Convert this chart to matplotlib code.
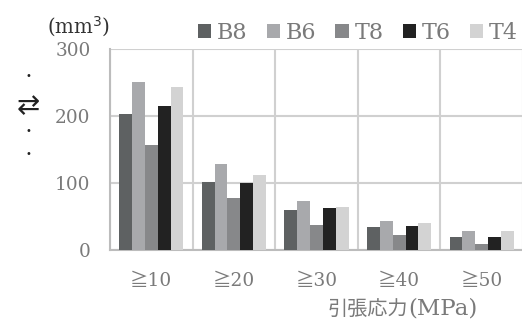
import matplotlib
matplotlib.use("Agg")
import matplotlib.pyplot as plt
import numpy as np

plt.rcParams['font.family'] = ['DejaVu Serif', 'Noto Sans CJK JP', 'DejaVu Sans']

categories = ['≧10', '≧20', '≧30', '≧40', '≧50']
series_names = ['B8', 'B6', 'T8', 'T6', 'T4']
B8 = [203, 101, 59, 35, 19]
B6 = [251, 129, 73, 44, 28]
T8 = [157, 77, 37, 22, 9]
T6 = [215, 100, 62, 36, 20]
T4 = [244, 112, 64, 41, 29]
series_values = [B8, B6, T8, T6, T4]
colors = ['#5e6162', '#a8a9ac', '#87888a', '#222222', '#d3d3d3']

y_ticks = [0, 100, 200, 300]
x_label_jp = '引張応力'
x_label_unit = '(MPa)'
unit_label = '(mm$^3$)'

fig = plt.figure(figsize=(5.22, 3.2), dpi=100)
ax = fig.add_axes([110 / 522, 70 / 320, 413 / 522, 201 / 320])

x = np.arange(len(categories))
bw = 0.155
handles = []
for i, (name, vals, c) in enumerate(zip(series_names, series_values, colors)):
    h = ax.bar(x + (i - 2) * bw, vals, width=bw, color=c, label=name, zorder=3)
    handles.append(h)

ax.set_xlim(-0.5, len(categories) - 0.5)
ax.set_ylim(0, 300)
ax.set_yticks(y_ticks)
ax.set_xticks(x)
ax.set_xticklabels(categories)

# category separators and value gridlines
ax.set_xticks(np.arange(len(categories) + 1) - 0.5, minor=True)
ax.grid(axis='x', which='minor', color='#d0d0d0', linewidth=1.5, zorder=0)
ax.grid(axis='y', which='major', color='#d0d0d0', linewidth=1.5, zorder=0)
ax.tick_params(which='both', length=0)
ax.tick_params(axis='y', pad=14, labelsize=13.3, labelcolor='#7a7a7a')
ax.tick_params(axis='x', pad=15.5, labelsize=13.3, labelcolor='#7a7a7a')

for s in ['top', 'right']:
    ax.spines[s].set_visible(False)
for s in ['left', 'bottom']:
    ax.spines[s].set_color('#bcbcbc')
    ax.spines[s].set_linewidth(1.5)

fig.text(78 / 522, 1 - 27 / 320, unit_label, ha='center', va='center',
         fontsize=14.2, color='#333333')

# horizontal axis title
fig.text(408 / 522, 1 - 315 / 320, x_label_jp, ha='right', va='baseline',
         fontsize=14.5, color='#7a7a7a', family='Noto Sans CJK JP')
fig.text(408 / 522, 1 - 315 / 320, x_label_unit, ha='left', va='baseline',
         fontsize=16.5, color='#7a7a7a')

# vertical axis title glyphs
for yy, s, fs in [(76, '•', 7), (106, '⇄', 20), (131, '•', 7), (154, '•', 7)]:
    fig.text(28 / 522, 1 - yy / 320, s, ha='center', va='center',
             fontsize=fs, color='#222222', family='DejaVu Sans')

fig.legend(handles=handles, labels=series_names, ncol=5, frameon=False,
           loc='center', bbox_to_anchor=(358 / 522, 1 - 33 / 320),
           fontsize=16, handlelength=0.6, handleheight=0.6,
           handletextpad=0.27, columnspacing=0.85, labelcolor='#7a7a7a',
           borderpad=0, borderaxespad=0)

fig.savefig('out.png', dpi=100)
